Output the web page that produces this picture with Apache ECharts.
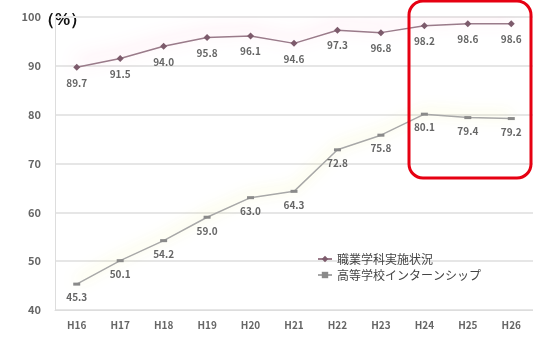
<!DOCTYPE html>
<html>
<head>
<meta charset="utf-8">
<script src="https://cdn.jsdelivr.net/npm/echarts@6/dist/echarts.min.js"></script>
<style>
  html, body { margin: 0; padding: 0; background: #fff; }
  #chart { width: 533px; height: 348px; }
</style>
</head>
<body>
<div id="chart"></div>
<script>
// 年度（平成）
const years = ['H16', 'H17', 'H18', 'H19', 'H20', 'H21', 'H22', 'H23', 'H24', 'H25', 'H26'];
// 職業学科の実施率（%）
const vocational = [89.7, 91.5, 94.0, 95.8, 96.1, 94.6, 97.3, 96.8, 98.2, 98.6, 98.6];
// 高校全体の実施率（%）
const overall = [45.3, 50.1, 54.2, 59.0, 63.0, 64.3, 72.8, 75.8, 80.1, 79.4, 79.2];
const seriesNames = ['職業学科実施状況', '高等学校インターンシップ'];

const chart = echarts.init(document.getElementById('chart'));

const labelStyle = {
  show: true,
  position: 'bottom',
  distance: 7,
  color: '#666',
  fontSize: 10,
  fontWeight: 'bold',
  formatter: p => p.value.toFixed(1),
};

chart.setOption({
  animation: false,
  textStyle: { fontFamily: 'Noto Sans CJK JP' },
  grid: { left: 55, right: -5, top: 17, bottom: 38 },
  legend: {
    orient: 'vertical',
    left: 312,
    top: 248,
    itemGap: 4,
    itemWidth: 14,
    itemHeight: 8,
    textStyle: { color: '#444', fontSize: 12 },
    data: seriesNames,
  },
  xAxis: {
    type: 'category',
    data: years,
    boundaryGap: true,
    axisLine: { lineStyle: { color: '#ddd' } },
    axisTick: { show: false },
    axisLabel: { color: '#666', fontSize: 10, fontWeight: 'bold', margin: 10 },
  },
  yAxis: {
    type: 'value',
    min: 40,
    max: 100,
    interval: 10,
    axisLine: { show: true, lineStyle: { color: '#ddd' } },
    axisLabel: { color: '#666', fontSize: 11, fontWeight: 'bold', margin: 14 },
    splitLine: { lineStyle: { color: '#e6e6e6', width: 2 } },
  },
  graphic: [
    {
      type: 'text',
      left: 38,
      top: 12,
      style: { text: '（%）', fontSize: 17, fontWeight: 'bold', fill: '#111' },
    },
    {
      type: 'rect',
      shape: { x: 409, y: 1, width: 122, height: 177, r: 14 },
      style: { fill: 'none', stroke: '#e60012', lineWidth: 3 },
      z: 100,
    },
  ],
  series: [
    {
      name: seriesNames[0],
      type: 'line',
      data: vocational,
      symbol: 'diamond',
      symbolSize: 7,
      itemStyle: { color: '#7d5b6c' },
      lineStyle: {
        color: '#9a7b8a',
        width: 1.5,
        shadowColor: 'rgba(255,150,190,0.8)',
        shadowBlur: 16,
        shadowOffsetY: -6,
      },
      label: labelStyle,
    },
    {
      name: seriesNames[1],
      type: 'line',
      data: overall,
      symbol: 'rect',
      symbolSize: [7, 3],
      itemStyle: { color: '#8a8a8a' },
      lineStyle: {
        color: '#a8a8a8',
        width: 1.5,
        shadowColor: 'rgba(235,235,120,0.9)',
        shadowBlur: 14,
        shadowOffsetY: -3,
      },
      label: labelStyle,
    },
  ],
});
</script>
</body>
</html>
